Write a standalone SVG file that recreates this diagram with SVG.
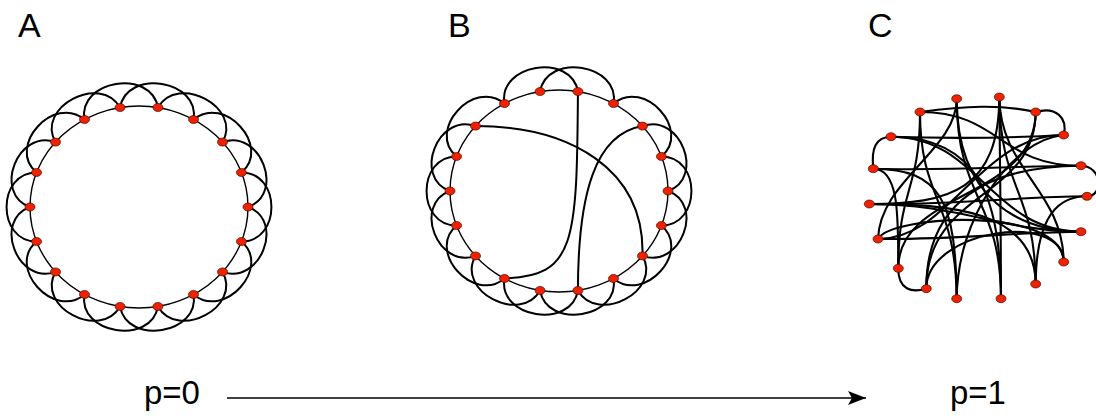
<svg xmlns="http://www.w3.org/2000/svg" width="1096" height="416" viewBox="0 0 1096 416">
<style>
.e{fill:none;stroke:#000;stroke-width:2}
.r{fill:none;stroke:#000;stroke-width:1.4}
.c{fill:none;stroke:#000;stroke-width:2.1}
.n{fill:#ee2200;stroke:#4a0800;stroke-width:0.7}
.t{font-family:"Liberation Sans",Arial,sans-serif;font-size:34px;fill:#000}
.p{font-family:"Liberation Sans",Arial,sans-serif;font-size:33px;fill:#000}
</style>
<defs>
<marker id="ah" viewBox="0 0 20 14" refX="18" refY="7" markerWidth="20" markerHeight="14" markerUnits="userSpaceOnUse" orient="auto">
<path d="M0,0 L18,7 L0,14 L4,7 Z" fill="#000"/>
</marker>
</defs>
<rect width="1096" height="416" fill="#fff"/>
<text class="t" x="18" y="37">A</text>
<text class="t" x="448" y="37">B</text>
<text class="t" x="868" y="37">C</text>
<text class="p" x="144" y="404">p=0</text>
<text class="p" x="950" y="404">p=1</text>
<g id="arrow"><line x1="227" y1="398" x2="866" y2="398" stroke="#000" stroke-width="1.6" marker-end="url(#ah)"/></g>

<!-- Graph A -->
<g id="graphA-connectors">
<ellipse class="r" cx="139" cy="207" rx="109" ry="101"/>
<path class="e" d="M120.07,107.53 C127.02,68.14 200.45,80.14 193.5,119.53"/>
<path class="e" d="M157.93,107.53 C177.93,72.89 242.5,107.44 222.5,142.08"/>
<path class="e" d="M193.5,119.53 C224.14,93.82 272.07,146.75 241.43,172.46"/>
<path class="e" d="M222.5,142.08 C260.09,128.4 285.59,193.32 248,207"/>
<path class="e" d="M241.43,172.46 C281.43,172.46 281.43,241.54 241.43,241.54"/>
<path class="e" d="M248,207 C285.59,220.68 260.09,285.6 222.5,271.92"/>
<path class="e" d="M241.43,241.54 C272.07,267.25 224.14,320.18 193.5,294.47"/>
<path class="e" d="M222.5,271.92 C242.5,306.56 177.93,341.11 157.93,306.47"/>
<path class="e" d="M193.5,294.47 C200.45,333.86 127.02,345.86 120.07,306.47"/>
<path class="e" d="M157.93,306.47 C150.98,345.86 77.55,333.86 84.5,294.47"/>
<path class="e" d="M120.07,306.47 C100.07,341.11 35.5,306.56 55.5,271.92"/>
<path class="e" d="M84.5,294.47 C53.86,320.18 5.93,267.25 36.57,241.54"/>
<path class="e" d="M55.5,271.92 C17.91,285.6 -7.59,220.68 30,207"/>
<path class="e" d="M36.57,241.54 C-3.43,241.54 -3.43,172.46 36.57,172.46"/>
<path class="e" d="M30,207 C-7.59,193.32 17.91,128.4 55.5,142.08"/>
<path class="e" d="M36.57,172.46 C5.93,146.75 53.86,93.82 84.5,119.53"/>
<path class="e" d="M55.5,142.08 C35.5,107.44 100.07,72.89 120.07,107.53"/>
<path class="e" d="M84.5,119.53 C77.55,80.14 150.98,68.14 157.93,107.53"/>
</g>
<g id="graphA-nodes">
<g id="a0"><ellipse class="n" cx="120.07" cy="107.53" rx="5" ry="4"/></g>
<g id="a1"><ellipse class="n" cx="157.93" cy="107.53" rx="5" ry="4"/></g>
<g id="a2"><ellipse class="n" cx="193.5" cy="119.53" rx="5" ry="4"/></g>
<g id="a3"><ellipse class="n" cx="222.5" cy="142.08" rx="5" ry="4"/></g>
<g id="a4"><ellipse class="n" cx="241.43" cy="172.46" rx="5" ry="4"/></g>
<g id="a5"><ellipse class="n" cx="248" cy="207" rx="5" ry="4"/></g>
<g id="a6"><ellipse class="n" cx="241.43" cy="241.54" rx="5" ry="4"/></g>
<g id="a7"><ellipse class="n" cx="222.5" cy="271.92" rx="5" ry="4"/></g>
<g id="a8"><ellipse class="n" cx="193.5" cy="294.47" rx="5" ry="4"/></g>
<g id="a9"><ellipse class="n" cx="157.93" cy="306.47" rx="5" ry="4"/></g>
<g id="a10"><ellipse class="n" cx="120.07" cy="306.47" rx="5" ry="4"/></g>
<g id="a11"><ellipse class="n" cx="84.5" cy="294.47" rx="5" ry="4"/></g>
<g id="a12"><ellipse class="n" cx="55.5" cy="271.92" rx="5" ry="4"/></g>
<g id="a13"><ellipse class="n" cx="36.57" cy="241.54" rx="5" ry="4"/></g>
<g id="a14"><ellipse class="n" cx="30" cy="207" rx="5" ry="4"/></g>
<g id="a15"><ellipse class="n" cx="36.57" cy="172.46" rx="5" ry="4"/></g>
<g id="a16"><ellipse class="n" cx="55.5" cy="142.08" rx="5" ry="4"/></g>
<g id="a17"><ellipse class="n" cx="84.5" cy="119.53" rx="5" ry="4"/></g>
</g>

<!-- Graph B -->
<g id="graphB-connectors" transform="translate(420,-16)">
<ellipse class="r" cx="139" cy="207" rx="109" ry="101"/>
<path class="e" d="M120.07,107.53 C127.02,68.14 200.45,80.14 193.5,119.53"/>
<path class="e" d="M193.5,119.53 C224.14,93.82 272.07,146.75 241.43,172.46"/>
<path class="e" d="M222.5,142.08 C260.09,128.4 285.59,193.32 248,207"/>
<path class="e" d="M241.43,172.46 C281.43,172.46 281.43,241.54 241.43,241.54"/>
<path class="e" d="M248,207 C285.59,220.68 260.09,285.6 222.5,271.92"/>
<path class="e" d="M241.43,241.54 C272.07,267.25 224.14,320.18 193.5,294.47"/>
<path class="e" d="M222.5,271.92 C242.5,306.56 177.93,341.11 157.93,306.47"/>
<path class="e" d="M193.5,294.47 C200.45,333.86 127.02,345.86 120.07,306.47"/>
<path class="e" d="M157.93,306.47 C150.98,345.86 77.55,333.86 84.5,294.47"/>
<path class="e" d="M120.07,306.47 C100.07,341.11 35.5,306.56 55.5,271.92"/>
<path class="e" d="M84.5,294.47 C53.86,320.18 5.93,267.25 36.57,241.54"/>
<path class="e" d="M55.5,271.92 C17.91,285.6 -7.59,220.68 30,207"/>
<path class="e" d="M36.57,241.54 C-3.43,241.54 -3.43,172.46 36.57,172.46"/>
<path class="e" d="M30,207 C-7.59,193.32 17.91,128.4 55.5,142.08"/>
<path class="e" d="M36.57,172.46 C5.93,146.75 53.86,93.82 84.5,119.53"/>
<path class="e" d="M84.5,119.53 C77.55,80.14 150.98,68.14 157.93,107.53"/>
<path class="e" d="M157.93,107.53 C157,260 155,292 84.5,294.47"/>
<path class="e" d="M55.5,142.08 C150,142 225,185 222.5,271.92"/>
<path class="e" d="M222.5,142.08 C175,150 158,210 157.93,306.47"/>
</g>
<g id="graphB-nodes" transform="translate(420,-16)">
<g id="b0"><ellipse class="n" cx="120.07" cy="107.53" rx="5" ry="4"/></g>
<g id="b1"><ellipse class="n" cx="157.93" cy="107.53" rx="5" ry="4"/></g>
<g id="b2"><ellipse class="n" cx="193.5" cy="119.53" rx="5" ry="4"/></g>
<g id="b3"><ellipse class="n" cx="222.5" cy="142.08" rx="5" ry="4"/></g>
<g id="b4"><ellipse class="n" cx="241.43" cy="172.46" rx="5" ry="4"/></g>
<g id="b5"><ellipse class="n" cx="248" cy="207" rx="5" ry="4"/></g>
<g id="b6"><ellipse class="n" cx="241.43" cy="241.54" rx="5" ry="4"/></g>
<g id="b7"><ellipse class="n" cx="222.5" cy="271.92" rx="5" ry="4"/></g>
<g id="b8"><ellipse class="n" cx="193.5" cy="294.47" rx="5" ry="4"/></g>
<g id="b9"><ellipse class="n" cx="157.93" cy="306.47" rx="5" ry="4"/></g>
<g id="b10"><ellipse class="n" cx="120.07" cy="306.47" rx="5" ry="4"/></g>
<g id="b11"><ellipse class="n" cx="84.5" cy="294.47" rx="5" ry="4"/></g>
<g id="b12"><ellipse class="n" cx="55.5" cy="271.92" rx="5" ry="4"/></g>
<g id="b13"><ellipse class="n" cx="36.57" cy="241.54" rx="5" ry="4"/></g>
<g id="b14"><ellipse class="n" cx="30" cy="207" rx="5" ry="4"/></g>
<g id="b15"><ellipse class="n" cx="36.57" cy="172.46" rx="5" ry="4"/></g>
<g id="b16"><ellipse class="n" cx="55.5" cy="142.08" rx="5" ry="4"/></g>
<g id="b17"><ellipse class="n" cx="84.5" cy="119.53" rx="5" ry="4"/></g>
</g>

<!-- Graph C -->
<g id="graphC-connectors">
<path class="c" d="M873.3,168.7 C871,148 876,137 891,136.7"/>
<path class="c" d="M891,136.7 C960,139 1010,138 1063.7,135"/>
<path class="c" d="M873.3,168.7 C950,171 1010,166 1081,165.7"/>
<path class="c" d="M869.3,204 C950,206 1020,196 1087,196.3"/>
<path class="c" d="M878,239 C950,240 1020,232 1081,231.7"/>
<path class="c" d="M999.3,97 C1000,170 1001,230 1001,298.7"/>
<path class="c" d="M920,112 C965,106 1000,104 1035.7,112"/>
<path class="c" d="M1081,165.7 C1102,166 1104,196 1087,196.3"/>
<path class="c" d="M898.3,268.3 C898,290 912,293 926.3,288.7"/>
<path class="c" d="M1035.7,112 C1056,106 1068,118 1063.7,135"/>
<path class="c" d="M1063.7,135 C1010,140 957,220 956.7,298.7"/>
<path class="c" d="M1035.7,284 C1036,230 1050,196 1087,196.3"/>
<path class="c" d="M956.7,98.7 C957,200 1001,200 1001,298.7"/>
<path class="c" d="M920,112 C920,190 898,190 898.3,268.3"/>
<path class="c" d="M878,239 C890,215 1063,205 1063.7,262"/>
<path class="c" d="M956.7,98.7 C957,150 880,180 878,239"/>
<path class="c" d="M956.7,98.7 C957,200 1020,231 1081,231.7"/>
<path class="c" d="M999.3,97 C1000,190 1035,190 1035.7,284"/>
<path class="c" d="M873.3,168.7 C900,169 898,220 898.3,268.3"/>
<path class="c" d="M926.3,288.7 C926,230 1063,210 1063.7,262"/>
<path class="c" d="M1081,165.7 C990,166 926,200 926.3,288.7"/>
<path class="c" d="M869.3,204 C960,204 1000,231 1081,231.7"/>
<path class="c" d="M1081,231.7 C990,231 980,137 891,136.7"/>
<path class="c" d="M920,112 C1000,112 1000,166 1081,165.7"/>
<path class="c" d="M1035.7,112 C1035,200 898,190 898.3,268.3"/>
<path class="c" d="M956.7,298.7 C956,200 920,200 920,112"/>
<path class="c" d="M1063.7,262 C1063,190 1000,170 999.3,97"/>
<path class="c" d="M999.3,97 C999,190 950,204 869.3,204"/>
<path class="c" d="M956.7,298.7 C956,200 940,169 873.3,168.7"/>
<path class="c" d="M1063.7,135 C980,135 950,239 878,239"/>
<path class="c" d="M926.3,288.7 C926,190 1035,200 1035.7,112"/>
<path class="c" d="M891,136.7 C980,137 1001,200 1001,298.7"/>
<path class="c" d="M1035.7,284 C1035,210 950,204 869.3,204"/>
</g>
<g id="graphC-nodes">
<g id="c0"><ellipse class="n" cx="956.7" cy="98.7" rx="5" ry="4"/></g>
<g id="c1"><ellipse class="n" cx="999.3" cy="97" rx="5" ry="4"/></g>
<g id="c2"><ellipse class="n" cx="1035.7" cy="112" rx="5" ry="4"/></g>
<g id="c3"><ellipse class="n" cx="1063.7" cy="135" rx="5" ry="4"/></g>
<g id="c4"><ellipse class="n" cx="1081" cy="165.7" rx="5" ry="4"/></g>
<g id="c5"><ellipse class="n" cx="1087" cy="196.3" rx="5" ry="4"/></g>
<g id="c6"><ellipse class="n" cx="1081" cy="231.7" rx="5" ry="4"/></g>
<g id="c7"><ellipse class="n" cx="1063.7" cy="262" rx="5" ry="4"/></g>
<g id="c8"><ellipse class="n" cx="1035.7" cy="284" rx="5" ry="4"/></g>
<g id="c9"><ellipse class="n" cx="1001" cy="298.7" rx="5" ry="4"/></g>
<g id="c10"><ellipse class="n" cx="956.7" cy="298.7" rx="5" ry="4"/></g>
<g id="c11"><ellipse class="n" cx="926.3" cy="288.7" rx="5" ry="4"/></g>
<g id="c12"><ellipse class="n" cx="898.3" cy="268.3" rx="5" ry="4"/></g>
<g id="c13"><ellipse class="n" cx="878" cy="239" rx="5" ry="4"/></g>
<g id="c14"><ellipse class="n" cx="869.3" cy="204" rx="5" ry="4"/></g>
<g id="c15"><ellipse class="n" cx="873.3" cy="168.7" rx="5" ry="4"/></g>
<g id="c16"><ellipse class="n" cx="891" cy="136.7" rx="5" ry="4"/></g>
<g id="c17"><ellipse class="n" cx="920" cy="112" rx="5" ry="4"/></g>
</g>
</svg>
